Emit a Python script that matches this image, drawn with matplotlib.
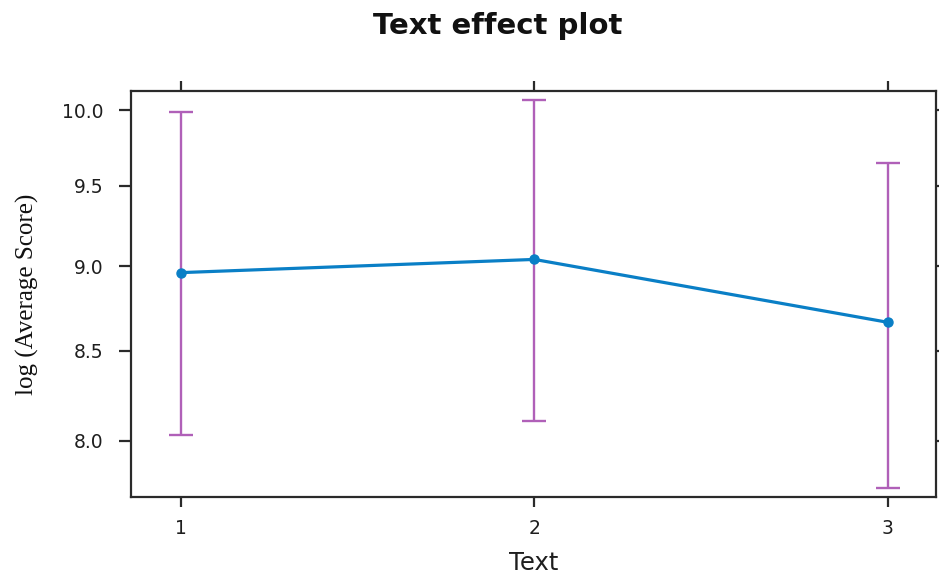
import numpy as np
import matplotlib
matplotlib.use("Agg")
import matplotlib.pyplot as plt

# effect estimates with lower/upper confidence limits
levels = [1, 2, 3]
fit = [8.96, 9.04, 8.665]
lower = [8.03, 8.105, 7.75]
upper = [9.985, 10.065, 9.65]
yticks = [8.0, 8.5, 9.0, 9.5, 10.0]

line_col = "#0a7fc6"
bar_col = "#b060b8"
ink = "#2a2a2a"

# slight stretch toward the bottom of the panel
a = 0.113
fwd = lambda y: -np.exp(-a * np.asarray(y, dtype=float))
inv = lambda v: -np.log(-np.asarray(v, dtype=float)) / a

fig = plt.figure(figsize=(9.39, 5.77), dpi=100)
ax = fig.add_axes([0.1395, 0.1386, 0.8573, 0.7037])
ax.set_yscale("function", functions=(fwd, inv))

err = [np.array(fit) - np.array(lower), np.array(upper) - np.array(fit)]
ax.errorbar(levels, fit, yerr=err, fmt="none", ecolor=bar_col,
            elinewidth=1.7, capsize=8.5, capthick=1.7, zorder=2)
ax.plot(levels, fit, color=line_col, lw=2.3, marker="o", ms=6.5,
        markerfacecolor=line_col, markeredgecolor=line_col, zorder=3)

ax.set_xlim(0.859, 3.136)
ax.set_ylim(7.70, 10.13)
ax.set_xticks(levels)
ax.set_xticklabels([str(l) for l in levels])
ax.set_yticks(yticks)
ax.set_yticklabels(["%.1f" % t for t in yticks])
ax.minorticks_off()

ax.tick_params(axis="both", direction="out", width=1.6, color=ink,
               labelsize=13.5, labelcolor="#1e1e1e",
               top=True, right=True, labeltop=False, labelright=False)
ax.tick_params(axis="x", length=7, pad=9)
ax.tick_params(axis="y", length=9, pad=11)
for s in ax.spines.values():
    s.set_linewidth(1.6)
    s.set_color(ink)

ax.set_xlabel("Text", fontsize=17.5, color="#1e1e1e", labelpad=9)
ax.set_ylabel("log (Average Score)", fontsize=18, family="Liberation Serif",
              color="#111111", labelpad=16)
fig.text(0.530, 0.955, "Text effect plot", ha="center", va="center",
         fontsize=21, fontweight="bold", color="#111111")

fig.savefig("out.png", dpi=100)
